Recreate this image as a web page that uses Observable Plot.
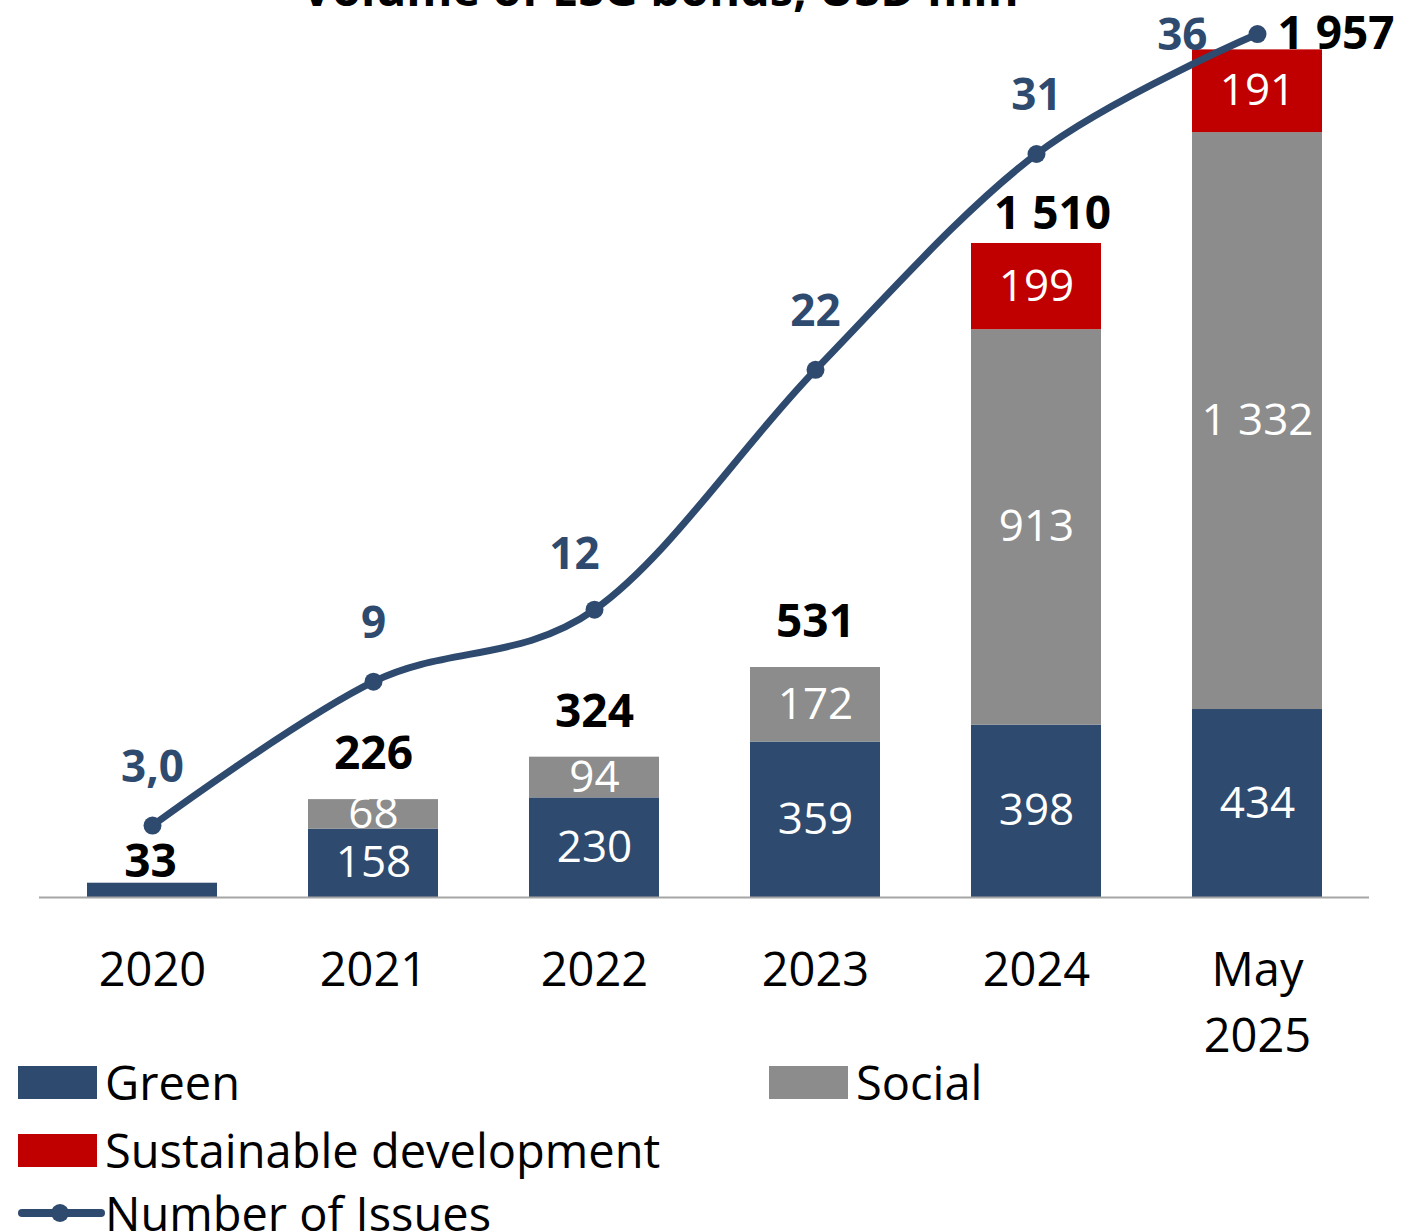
<!DOCTYPE html>
<html>
<head>
<meta charset="utf-8">
<script src="https://cdn.jsdelivr.net/npm/d3@7"></script>
<script src="https://cdn.jsdelivr.net/npm/@observablehq/plot@0.6"></script>
<style>
  html, body { margin: 0; padding: 0; background: #fff; overflow: hidden; }
  #wrap { position: relative; width: 1426px; height: 1232px; font-family: "Open Sans", sans-serif; }
  #title { position: absolute; z-index: 2; left: 0; width: 1320px; top: -35px; text-align: center; font-size: 47px; line-height: 47px; font-weight: bold; color: #000; white-space: nowrap; }
  #chart { position: absolute; left: 0; top: 0; z-index: 1; }
  .leg { position: absolute; display: flex; align-items: center; font-size: 47px; color: #000; white-space: nowrap; }
  .sw { width: 79px; height: 33px; margin-right: 8px; }
</style>
</head>
<body>
<div id="wrap">
  <div id="chart"></div>
  <div id="title">Volume of ESG bonds, USD mln</div>
  <div id="legend"></div>
</div>
<script>
// ---- data ----
const categories = ["2020", "2021", "2022", "2023", "2024", "May 2025"];
const seriesNames = ["Green", "Social", "Sustainable development"];
const greenValues = [33, 158, 230, 359, 398, 434];
const socialValues = [0, 68, 94, 172, 913, 1332];
const sustainableValues = [0, 0, 0, 0, 199, 191];
const issues = [3, 9, 12, 22, 31, 36];
const issueLabels = ["3,0", "9", "12", "22", "31", "36"];
const lineName = "Number of Issues";

// ---- styling ----
const colors = ["#2E4A6E", "#8C8C8C", "#C00000"];
const navy = "#2E4A6E";
const font = "Open Sans";
const volumeMax = 2071;   // primary axis top
const issuesMax = 37.4;   // secondary axis top
const k = volumeMax / issuesMax;

const fmt = d3.formatLocale({decimal: ",", thousands: "\u00a0", grouping: [3], currency: ["", ""]}).format(",");

const seriesValues = [greenValues, socialValues, sustainableValues];
const rows = [];
categories.forEach((c, i) => {
  seriesNames.forEach((s, j) => {
    const v = seriesValues[j][i];
    if (v > 0) rows.push({year: c, series: s, value: v});
  });
});
const totals = categories.map((c, i) => ({
  year: c,
  total: greenValues[i] + socialValues[i] + sustainableValues[i]
}));
const lineRows = categories.map((c, i) => ({year: c, issues: issues[i], label: issueLabels[i]}));

const last = categories[categories.length - 1];
const lowTotals = ["2020"];
const midTotals = ["2024"];
const shiftedIssue = ["2022"];

const chart = Plot.plot({
  width: 1426,
  height: 1058,
  marginTop: 0,
  marginBottom: 161,
  marginLeft: 39,
  marginRight: 57,
  style: {fontFamily: font, background: "white", overflow: "visible"},
  x: {domain: categories, paddingInner: 0.413, paddingOuter: 0.2065, axis: null, label: null},
  y: {domain: [0, volumeMax], axis: null},
  color: {domain: seriesNames, range: colors},
  marks: [
    Plot.barY(rows, {x: "year", y: "value", fill: "series", order: seriesNames}),
    Plot.ruleY([0], {stroke: "#A6A6A6", strokeWidth: 2}),
    Plot.axisX({tickSize: 0, tickPadding: 42, fontSize: 47, lineHeight: 1.4, label: null,
      tickFormat: d => d.replace(" ", "\n"), fill: "#000"}),
    Plot.text(rows.filter(d => d.value >= 50), Plot.stackY({
      x: "year", y: "value", z: "series", order: seriesNames,
      text: d => fmt(d.value), fill: "white", fontSize: 44
    })),
    // total labels
    Plot.text(totals.filter(d => !lowTotals.includes(d.year) && !midTotals.includes(d.year) && d.year !== last), {
      x: "year", y: "total", text: d => fmt(d.total), dy: -45, fontSize: 46, fontWeight: "bold", fill: "#000"
    }),
    Plot.text(totals.filter(d => lowTotals.includes(d.year)), {
      x: "year", y: "total", text: d => fmt(d.total), dy: -21, dx: -2, fontSize: 46, fontWeight: "bold", fill: "#000"
    }),
    Plot.text(totals.filter(d => midTotals.includes(d.year)), {
      x: "year", y: "total", text: d => fmt(d.total), dy: -29, dx: 16, fontSize: 46, fontWeight: "bold", fill: "#000"
    }),
    // number of issues line
    Plot.line(lineRows, {x: "year", y: d => d.issues * k, stroke: navy, strokeWidth: 7, curve: "cardinal"}),
    Plot.dot(lineRows, {x: "year", y: d => d.issues * k, r: 9, fill: navy, stroke: "none"}),
    Plot.text(lineRows.filter(d => d.year !== last && !shiftedIssue.includes(d.year)), {
      x: "year", y: d => d.issues * k, text: "label", dy: -58, fontSize: 44, fontWeight: "bold", fill: navy
    }),
    Plot.text(lineRows.filter(d => shiftedIssue.includes(d.year)), {
      x: "year", y: d => d.issues * k, text: "label", dy: -55, dx: -20, fontSize: 44, fontWeight: "bold", fill: navy
    }),
    Plot.text(lineRows.filter(d => d.year === last), {
      x: "year", y: d => d.issues * k, text: "label", dx: -50, dy: 2, textAnchor: "end", fontSize: 44, fontWeight: "bold", fill: navy
    }),
    Plot.text(totals.filter(d => d.year === last), {
      x: "year", y: "total", text: d => fmt(d.total), dx: 20, dy: -16, textAnchor: "start", fontSize: 46, fontWeight: "bold", fill: "#000"
    })
  ]
});
document.getElementById("chart").appendChild(chart);

// ---- legend ----
const legend = document.getElementById("legend");
const items = [
  {name: seriesNames[0], color: colors[0], left: 18, top: 1058},
  {name: seriesNames[1], color: colors[1], left: 769, top: 1058},
  {name: seriesNames[2], color: colors[2], left: 18, top: 1126}
];
items.forEach(it => {
  const el = document.createElement("div");
  el.className = "leg";
  el.style.left = it.left + "px";
  el.style.top = it.top + "px";
  el.style.height = "48px";
  el.innerHTML = `<div class="sw" style="background:${it.color}"></div><span>${it.name}</span>`;
  legend.appendChild(el);
});
const ln = document.createElement("div");
ln.className = "leg";
ln.style.left = "18px";
ln.style.top = "1189px";
ln.style.height = "48px";
ln.innerHTML = `<svg width="87" height="24" style="margin-right:0px"><line x1="4" y1="12" x2="83" y2="12" stroke="${navy}" stroke-width="8" stroke-linecap="round"/><circle cx="42" cy="12" r="9" fill="${navy}"/></svg><span>${lineName}</span>`;
legend.appendChild(ln);
</script>
</body>
</html>
